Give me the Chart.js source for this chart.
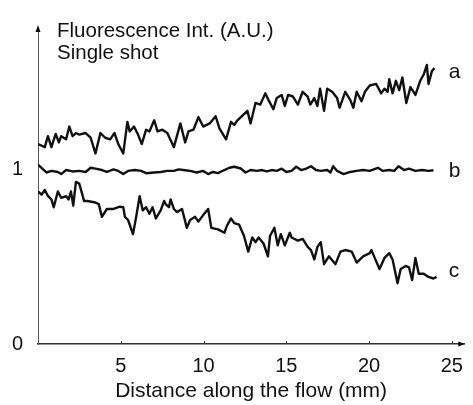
<!DOCTYPE html>
<html>
<head>
<meta charset="utf-8">
<script src="https://cdn.jsdelivr.net/npm/chart.js@4.4.1/dist/chart.umd.min.js"></script>
<style>
  html, body { margin: 0; padding: 0; background: #fff; }
  #wrap { width: 473px; height: 405px; }
</style>
</head>
<body>
<div id="wrap"><canvas id="chart" width="473" height="405"></canvas></div>
<script>
// distance along the flow (mm) and fluorescence (A.U.)
const distA = [0, 0.41, 0.60, 0.81, 1.07, 1.26, 1.40, 1.70, 1.89, 2.09, 2.29, 2.49, 2.88, 3.18, 3.47, 3.77, 4.06, 4.36, 4.62, 4.85,
  5.15, 5.40, 5.54, 5.80, 6.04, 6.27, 6.53, 6.73, 7.02, 7.22, 7.51, 7.81, 8.21, 8.60, 8.89, 9.09, 9.39, 9.69, 9.98, 10.37,
  10.73, 10.96, 11.36, 11.66, 11.85, 12.05, 12.35, 12.65, 12.84, 13.14, 13.43, 13.73, 13.92, 14.22, 14.42, 14.72, 14.91, 15.11, 15.40, 15.70,
  15.99, 16.29, 16.45, 16.69, 16.88, 17.04, 17.28, 17.47, 17.77, 18.07, 18.22, 18.56, 18.86, 19.05, 19.25, 19.54, 19.75, 20.04, 20.43, 20.73,
  20.93, 21.12, 21.22, 21.42, 21.62, 21.82, 22.01, 22.25, 22.50, 22.80, 23.09, 23.30, 23.49, 23.59, 23.79, 23.95];
const intA = [1.145, 1.127, 1.190, 1.127, 1.203, 1.154, 1.190, 1.172, 1.245, 1.190, 1.208, 1.199, 1.208, 1.181, 1.091, 1.208, 1.181, 1.172, 1.208, 1.145,
  1.091, 1.272, 1.217, 1.245, 1.199, 1.145, 1.227, 1.217, 1.281, 1.217, 1.227, 1.208, 1.127, 1.263, 1.154, 1.217, 1.227, 1.299, 1.245, 1.263,
  1.304, 1.235, 1.172, 1.272, 1.254, 1.281, 1.308, 1.335, 1.263, 1.380, 1.371, 1.435, 1.398, 1.344, 1.408, 1.426, 1.363, 1.426, 1.417, 1.371,
  1.444, 1.417, 1.371, 1.408, 1.363, 1.462, 1.335, 1.462, 1.444, 1.408, 1.353, 1.444, 1.398, 1.353, 1.444, 1.390, 1.444, 1.480, 1.489, 1.435,
  1.462, 1.444, 1.516, 1.435, 1.507, 1.453, 1.526, 1.380, 1.471, 1.426, 1.507, 1.543, 1.598, 1.489, 1.561, 1.580];

const distB = [0, 0.31, 0.51, 0.81, 1.20, 1.40, 1.70, 2.09, 2.49, 2.88, 3.18, 3.47, 3.86, 4.16, 4.56, 4.85, 5.15, 5.44, 5.84, 6.23,
  6.53, 7.02, 7.41, 7.81, 8.21, 8.50, 8.89, 9.19, 9.59, 9.98, 10.28, 10.57, 10.87, 11.26, 11.56, 11.85, 12.25, 12.54, 12.84, 13.24,
  13.53, 13.83, 14.12, 14.42, 14.72, 15.01, 15.31, 15.60, 15.90, 16.20, 16.49, 16.79, 17.08, 17.47, 17.67, 17.83, 18.07, 18.46, 18.86, 19.25,
  19.64, 20.04, 20.53, 20.83, 21.22, 21.52, 21.78, 22.11, 22.41, 22.80, 23.20, 23.59, 23.89];
const intB = [1.027, 1.000, 0.982, 0.991, 0.985, 0.973, 0.996, 0.988, 0.991, 0.985, 1.009, 1.004, 0.996, 0.985, 1.000, 0.991, 0.973, 0.991, 0.996, 0.991,
  0.978, 0.982, 0.985, 0.991, 0.991, 1.000, 0.995, 0.991, 0.982, 0.991, 0.973, 0.985, 0.978, 0.996, 1.009, 1.015, 1.005, 0.982, 0.996, 0.991,
  0.996, 0.988, 0.996, 0.991, 1.004, 0.985, 0.991, 1.015, 0.996, 1.004, 1.018, 0.996, 0.991, 0.996, 0.982, 1.018, 0.991, 0.973, 0.985, 0.991,
  0.996, 0.991, 1.009, 0.991, 0.996, 0.991, 1.018, 0.996, 1.004, 0.991, 0.996, 0.991, 0.995];

const distC = [0, 0.22, 0.41, 0.61, 0.81, 0.95, 1.20, 1.40, 1.70, 1.85, 1.99, 2.13, 2.29, 2.49, 2.68, 2.78, 2.98, 3.47, 3.67, 3.86,
  4.16, 4.56, 4.95, 5.15, 5.25, 5.44, 5.74, 5.93, 6.14, 6.33, 6.53, 6.73, 6.92, 7.12, 7.41, 7.62, 7.71, 7.91, 8.01, 8.21,
  8.40, 8.70, 8.99, 9.19, 9.49, 9.69, 9.98, 10.28, 10.47, 10.87, 11.26, 11.40, 11.66, 11.85, 12.15, 12.44, 12.70, 12.94, 13.14, 13.33,
  13.63, 13.89, 14.02, 14.28, 14.48, 14.67, 14.91, 15.21, 15.31, 15.70, 15.99, 16.29, 16.49, 16.69, 16.88, 17.08, 17.28, 17.57, 17.97, 18.27,
  18.56, 18.95, 19.25, 19.64, 20.04, 20.14, 20.34, 20.63, 20.93, 21.22, 21.42, 21.72, 21.91, 22.21, 22.41, 22.60, 22.80, 23.00, 23.30, 23.59,
  23.89, 24.08];
const intC = [0.873, 0.855, 0.882, 0.846, 0.828, 0.783, 0.873, 0.837, 0.846, 0.828, 0.873, 0.792, 0.928, 0.918, 0.855, 0.819, 0.819, 0.810, 0.801, 0.728,
  0.773, 0.773, 0.786, 0.783, 0.728, 0.710, 0.629, 0.728, 0.846, 0.765, 0.783, 0.746, 0.783, 0.719, 0.765, 0.819, 0.801, 0.783, 0.828, 0.773,
  0.755, 0.773, 0.665, 0.710, 0.728, 0.701, 0.738, 0.773, 0.665, 0.656, 0.637, 0.674, 0.719, 0.692, 0.683, 0.620, 0.529, 0.610, 0.583, 0.610,
  0.574, 0.502, 0.620, 0.665, 0.565, 0.629, 0.565, 0.637, 0.610, 0.592, 0.602, 0.556, 0.538, 0.484, 0.556, 0.583, 0.457, 0.502, 0.457, 0.529,
  0.538, 0.529, 0.466, 0.502, 0.520, 0.538, 0.493, 0.429, 0.493, 0.520, 0.484, 0.348, 0.429, 0.447, 0.439, 0.366, 0.493, 0.402, 0.402, 0.384,
  0.375, 0.384];

const seriesNames = ["a", "b", "c"];
const nameLevels = [1.557, 0.989, 0.416];
const nameDist = 24.75;
const xTicks = [5, 10, 15, 20, 25];
const yTicks = [0, 1];
const xTitle = "Distance along the flow (mm)";
const noteLines = ["Fluorescence Int. (A.U.)", "Single shot"];

const FONT = "'Liberation Sans', Arial, Helvetica, sans-serif";
const INK = "#111";

function pts(xs, ys) {
  return xs.map((x, i) => ({ x: x, y: ys[i] }));
}

const extras = {
  id: "extras",
  afterDraw(chart) {
    const ctx = chart.ctx;
    const area = chart.chartArea;
    const xs = chart.scales.x, ys = chart.scales.y;
    ctx.save();
    ctx.fillStyle = INK;
    ctx.strokeStyle = "#333";
    ctx.lineWidth = 1;
    // small inward ticks on x axis
    xTicks.forEach(v => {
      const px = Math.round(xs.getPixelForValue(v)) + 0.5;
      ctx.beginPath();
      ctx.moveTo(px, area.bottom);
      ctx.lineTo(px, area.bottom - 3);
      ctx.stroke();
    });
    // arrow heads
    ctx.beginPath();
    ctx.moveTo(area.left, area.top - 2);
    ctx.lineTo(area.left - 2.5, area.top + 5);
    ctx.lineTo(area.left + 2.5, area.top + 5);
    ctx.closePath();
    ctx.fill();
    ctx.beginPath();
    ctx.moveTo(area.right + 1, area.bottom);
    ctx.lineTo(area.right - 6, area.bottom - 2.5);
    ctx.lineTo(area.right - 6, area.bottom + 2.5);
    ctx.closePath();
    ctx.fill();
    // note text
    ctx.font = "20.5px " + FONT;
    ctx.textAlign = "left";
    ctx.textBaseline = "alphabetic";
    ctx.fillText(noteLines[0], area.left + 19, 37);
    ctx.fillText(noteLines[1], area.left + 19, 59);
    // series letters
    ctx.font = "21px " + FONT;
    ctx.textBaseline = "middle";
    seriesNames.forEach((s, i) => {
      ctx.fillText(s, xs.getPixelForValue(nameDist) + 1, ys.getPixelForValue(nameLevels[i]));
    });
    ctx.restore();
  }
};

const lineStyle = {
  borderColor: INK,
  borderWidth: 2.4,
  pointRadius: 0,
  tension: 0,
  fill: false,
  borderJoinStyle: "round"
};

new Chart(document.getElementById("chart"), {
  type: "line",
  data: {
    datasets: [
      Object.assign({ label: "a", data: pts(distA, intA) }, lineStyle),
      Object.assign({ label: "b", data: pts(distB, intB) }, lineStyle),
      Object.assign({ label: "c", data: pts(distC, intC) }, lineStyle)
    ]
  },
  options: {
    responsive: false,
    animation: false,
    events: [],
    layout: { padding: { top: 10, right: 1, left: 0, bottom: 0 } },
    plugins: {
      legend: { display: false },
      tooltip: { enabled: false },
      title: { display: false }
    },
    scales: {
      x: {
        type: "linear",
        min: 0,
        max: 25.75,
        afterFit: s => { s.height = 61; },
        afterBuildTicks: s => { s.ticks = xTicks.map(v => ({ value: v })); },
        grid: { display: false, drawTicks: false },
        border: { display: true, color: "#333", width: 1.5 },
        ticks: {
          color: INK,
          padding: 10,
          maxRotation: 0,
          font: { family: FONT, size: 20 },
          callback: v => String(v)
        },
        title: {
          display: true,
          text: xTitle,
          color: INK,
          padding: { top: 0, bottom: 1 },
          font: { family: FONT, size: 21 }
        }
      },
      y: {
        type: "linear",
        min: 0,
        max: 1.815,
        afterFit: s => { s.width = 38; },
        afterBuildTicks: s => { s.ticks = yTicks.map(v => ({ value: v })); },
        grid: { display: false, drawTicks: false },
        border: { display: true, color: "#555", width: 1 },
        ticks: {
          color: INK,
          padding: 15,
          font: { family: FONT, size: 20 },
          callback: v => String(v)
        }
      }
    }
  },
  plugins: [extras]
});
</script>
</body>
</html>
